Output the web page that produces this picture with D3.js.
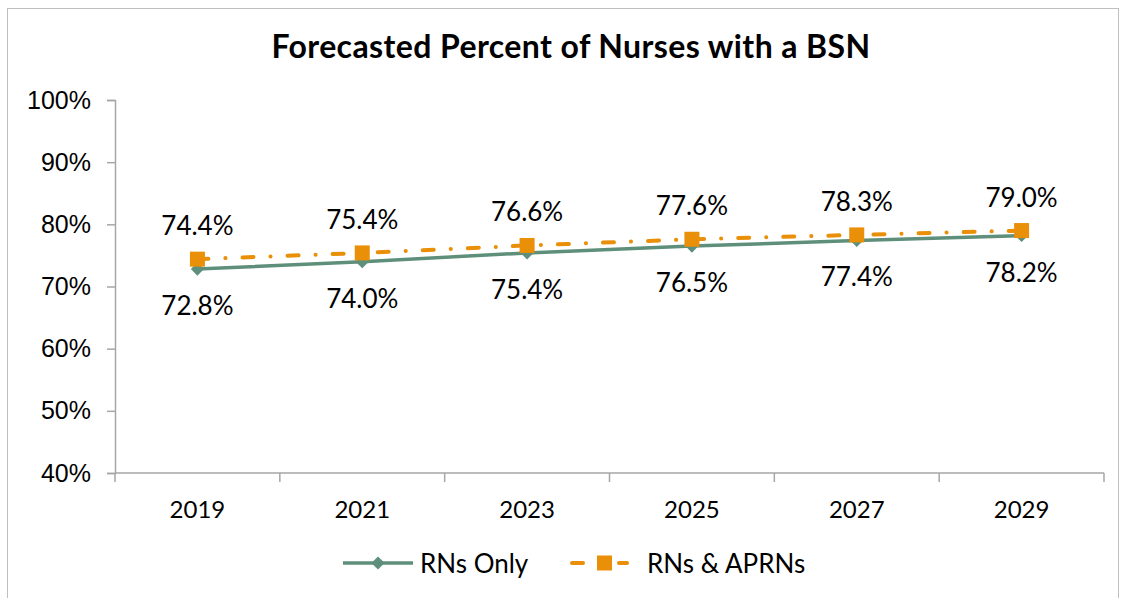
<!DOCTYPE html>
<html>
<head>
<meta charset="utf-8">
<script src="https://cdn.jsdelivr.net/npm/d3@7"></script>
<style>
  body { margin: 0; background: #fff; }
  svg { display: block; font-family: "Century Gothic", Lato, "Open Sans", sans-serif; }
</style>
</head>
<body>
<svg id="chart" width="1123" height="598"></svg>
<script>
const years = ['2019', '2021', '2023', '2025', '2027', '2029'];
const rnsOnly = [72.8, 74.0, 75.4, 76.5, 77.4, 78.2];
const rnsAprns = [74.4, 75.4, 76.6, 77.6, 78.3, 79.0];
const yTicks = [40, 50, 60, 70, 80, 90, 100];

const green = '#5e8f7b';
const orange = '#e98f08';
const axisGray = '#a6a6a6';

const svg = d3.select('#chart');

// outer chart border
svg.append('rect')
  .attr('x', 7.5).attr('y', 8.5)
  .attr('width', 1111).attr('height', 600)
  .attr('fill', 'none')
  .attr('stroke', '#bfbfbf');

svg.append('text')
  .attr('x', 571).attr('y', 58)
  .attr('text-anchor', 'middle')
  .attr('font-size', 32)
  .attr('font-weight', 'bold')
  .attr('letter-spacing', 0.4)
  .text('Forecasted Percent of Nurses with a BSN');

const x = d3.scaleBand().domain(years).range([115, 1104]);
const y = d3.scaleLinear().domain([40, 100]).range([473, 100]);
const cx = d => x(d) + x.bandwidth() / 2;

// y axis
const yAxis = svg.append('g')
  .attr('transform', 'translate(115,0)')
  .call(d3.axisLeft(y).tickValues(yTicks).tickFormat(d => d + '%').tickSize(8).tickPadding(16));
yAxis.select('.domain').attr('stroke', axisGray).attr('stroke-width', 1.5);
yAxis.selectAll('.tick line').attr('stroke', axisGray).attr('stroke-width', 1.5);
yAxis.selectAll('.tick text').attr('font-size', 25).attr('fill', '#000')
  .attr('font-family', 'inherit');

// x axis: ticks between categories
const xAxis = svg.append('g').attr('transform', 'translate(0,473)');
xAxis.append('line')
  .attr('x1', 115).attr('x2', 1104)
  .attr('stroke', axisGray).attr('stroke-width', 1.5);
xAxis.selectAll('line.sep')
  .data(years.concat(['end']))
  .join('line')
  .attr('class', 'sep')
  .attr('x1', (d, i) => 115 + i * x.bandwidth())
  .attr('x2', (d, i) => 115 + i * x.bandwidth())
  .attr('y1', 0).attr('y2', 9)
  .attr('stroke', axisGray).attr('stroke-width', 1.5);
xAxis.selectAll('text')
  .data(years)
  .join('text')
  .attr('x', cx)
  .attr('y', 45)
  .attr('text-anchor', 'middle')
  .attr('font-size', 24)
  .text(d => d);

const line = d3.line().x((d, i) => cx(years[i])).y(d => y(d));

// RNs Only
svg.append('path')
  .datum(rnsOnly)
  .attr('d', line)
  .attr('fill', 'none')
  .attr('stroke', green)
  .attr('stroke-width', 3.5);

svg.selectAll('path.diamond')
  .data(rnsOnly)
  .join('path')
  .attr('class', 'diamond')
  .attr('d', d3.symbol(d3.symbolDiamond2, 110))
  .attr('transform', (d, i) => `translate(${cx(years[i])},${y(d)})`)
  .attr('fill', green);

// RNs & APRNs
svg.append('path')
  .datum(rnsAprns)
  .attr('d', line)
  .attr('fill', 'none')
  .attr('stroke', orange)
  .attr('stroke-width', 4)
  .attr('stroke-linecap', 'round')
  .attr('stroke-dasharray', '11 17 0.1 17');

svg.selectAll('rect.sq')
  .data(rnsAprns)
  .join('rect')
  .attr('class', 'sq')
  .attr('x', (d, i) => cx(years[i]) - 7.5)
  .attr('y', d => y(d) - 7.5)
  .attr('width', 15).attr('height', 15)
  .attr('fill', orange);

// data labels
svg.selectAll('text.lblTop')
  .data(rnsAprns)
  .join('text')
  .attr('class', 'lblTop')
  .attr('x', (d, i) => cx(years[i]))
  .attr('y', d => y(d) - 24)
  .attr('text-anchor', 'middle')
  .attr('font-size', 26)
  .text(d => d.toFixed(1) + '%');

svg.selectAll('text.lblBot')
  .data(rnsOnly)
  .join('text')
  .attr('class', 'lblBot')
  .attr('x', (d, i) => cx(years[i]))
  .attr('y', d => y(d) + 46)
  .attr('text-anchor', 'middle')
  .attr('font-size', 26)
  .text(d => d.toFixed(1) + '%');

// legend
const leg = svg.append('g').attr('transform', 'translate(0,563)');
leg.append('line')
  .attr('x1', 343).attr('x2', 413)
  .attr('stroke', green).attr('stroke-width', 3.5);
leg.append('path')
  .attr('d', d3.symbol(d3.symbolDiamond2, 110))
  .attr('transform', 'translate(378,0)')
  .attr('fill', green);
leg.append('text')
  .attr('x', 420).attr('y', 10)
  .attr('font-size', 26)
  .text('RNs Only');

leg.append('line')
  .attr('x1', 572).attr('x2', 583)
  .attr('stroke', orange).attr('stroke-width', 4).attr('stroke-linecap', 'round');
leg.append('line')
  .attr('x1', 619).attr('x2', 627)
  .attr('stroke', orange).attr('stroke-width', 4).attr('stroke-linecap', 'round');
leg.append('rect')
  .attr('x', 597).attr('y', -7.5)
  .attr('width', 15).attr('height', 15)
  .attr('fill', orange);
leg.append('text')
  .attr('x', 647).attr('y', 10)
  .attr('font-size', 26)
  .text('RNs & APRNs');
</script>
</body>
</html>
